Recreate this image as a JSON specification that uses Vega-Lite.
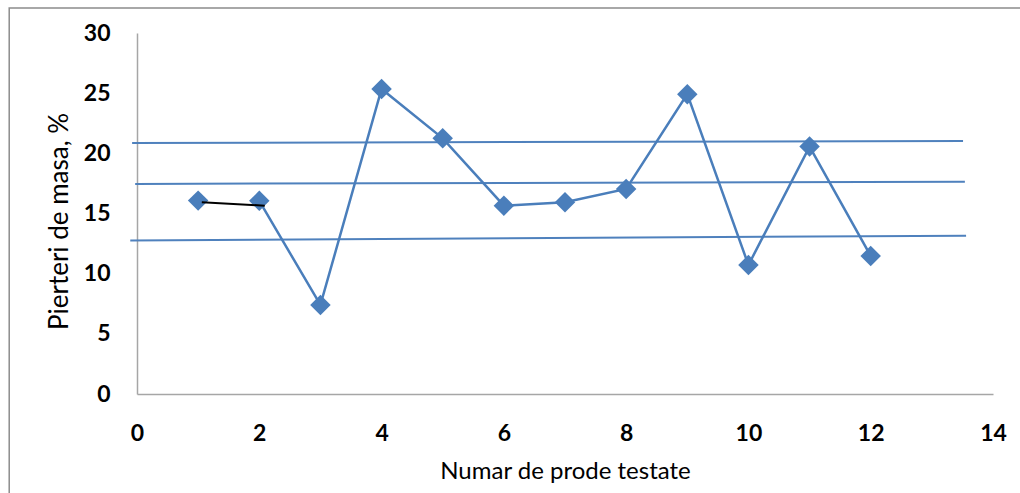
{
  "$schema": "https://vega.github.io/schema/vega-lite/v6.json",
  "width": 856,
  "height": 361,
  "autosize": {"type": "none"},
  "padding": {"left": 137, "top": 33, "right": 27, "bottom": 99},
  "background": "white",
  "config": {"view": {"stroke": null}, "font": "Lato"},
  "datasets": {
    "series": [
      {"n": 1, "loss": 16.07},
      {"n": 2, "loss": 16.05},
      {"n": 3, "loss": 7.4},
      {"n": 4, "loss": 25.35},
      {"n": 5, "loss": 21.25},
      {"n": 6, "loss": 15.65},
      {"n": 7, "loss": 15.93},
      {"n": 8, "loss": 17.04},
      {"n": 9, "loss": 24.92},
      {"n": 10, "loss": 10.72},
      {"n": 11, "loss": 20.56},
      {"n": 12, "loss": 11.47}
    ],
    "refs": [
      {"line": "upper", "n": -0.08, "loss": 20.86},
      {"line": "upper", "n": 13.51, "loss": 21.03},
      {"line": "mid", "n": -0.03, "loss": 17.46},
      {"line": "mid", "n": 13.54, "loss": 17.63},
      {"line": "lower", "n": -0.11, "loss": 12.76},
      {"line": "lower", "n": 13.56, "loss": 13.16}
    ],
    "black": [
      {"n": 1.06, "loss": 15.94},
      {"n": 2.09, "loss": 15.65}
    ],
    "frame": [
      {"n": -2.09, "n_end": 30, "loss": 32.08, "loss_end": -30}
    ]
  },
  "layer": [
    {
      "data": {"name": "refs"},
      "mark": {"type": "line", "color": "#4F81BD", "strokeWidth": 2, "clip": false},
      "encoding": {
        "x": {
          "field": "n", "type": "quantitative",
          "scale": {"domain": [0, 14], "nice": false, "zero": false},
          "axis": {
            "values": [0, 2, 4, 6, 8, 10, 12, 14],
            "format": "d",
            "labelFlush": false,
            "labelOverlap": false,
            "title": "Numar de prode testate",
            "titleFontSize": 24,
            "titleFontWeight": "normal",
            "titleColor": "#000000",
            "titlePadding": 14,
            "labelFontSize": 23,
            "labelFontWeight": "bold",
            "labelColor": "#000000",
            "labelPadding": 28,
            "ticks": false,
            "grid": false,
            "domainColor": "#a6a6a6",
            "domainWidth": 1.5
          }
        },
        "y": {
          "field": "loss", "type": "quantitative",
          "scale": {"domain": [0, 30], "nice": false, "zero": false},
          "axis": {
            "values": [0, 5, 10, 15, 20, 25, 30],
            "format": "d",
            "labelFlush": false,
            "labelOverlap": false,
            "title": "Pierteri de masa, %",
            "titleFontSize": 26,
            "titleFontWeight": "normal",
            "titleColor": "#000000",
            "titlePadding": 11,
            "titleY": 188,
            "labelFontSize": 23,
            "labelFontWeight": "bold",
            "labelColor": "#000000",
            "labelPadding": 27,
            "ticks": false,
            "grid": false,
            "domainColor": "#a6a6a6",
            "domainWidth": 1.5
          }
        },
        "detail": {"field": "line", "type": "nominal"}
      }
    },
    {
      "data": {"name": "series"},
      "transform": [{"filter": "datum.n >= 2"}],
      "mark": {"type": "line", "color": "#4A7EBB", "strokeWidth": 2.5},
      "encoding": {
        "x": {"field": "n", "type": "quantitative"},
        "y": {"field": "loss", "type": "quantitative"}
      }
    },
    {
      "data": {"name": "series"},
      "mark": {"type": "point", "shape": "diamond", "filled": true, "size": 420, "color": "#4A7EBB", "opacity": 1},
      "encoding": {
        "x": {"field": "n", "type": "quantitative"},
        "y": {"field": "loss", "type": "quantitative"}
      }
    },
    {
      "data": {"name": "black"},
      "mark": {"type": "line", "color": "#000000", "strokeWidth": 2},
      "encoding": {
        "x": {"field": "n", "type": "quantitative"},
        "y": {"field": "loss", "type": "quantitative"}
      }
    },
    {
      "data": {"name": "frame"},
      "mark": {"type": "rect", "fill": null, "stroke": "#8c8c8c", "strokeWidth": 1.5, "clip": false},
      "encoding": {
        "x": {"field": "n", "type": "quantitative"},
        "x2": {"field": "n_end"},
        "y": {"field": "loss", "type": "quantitative"},
        "y2": {"field": "loss_end"}
      }
    }
  ]
}
